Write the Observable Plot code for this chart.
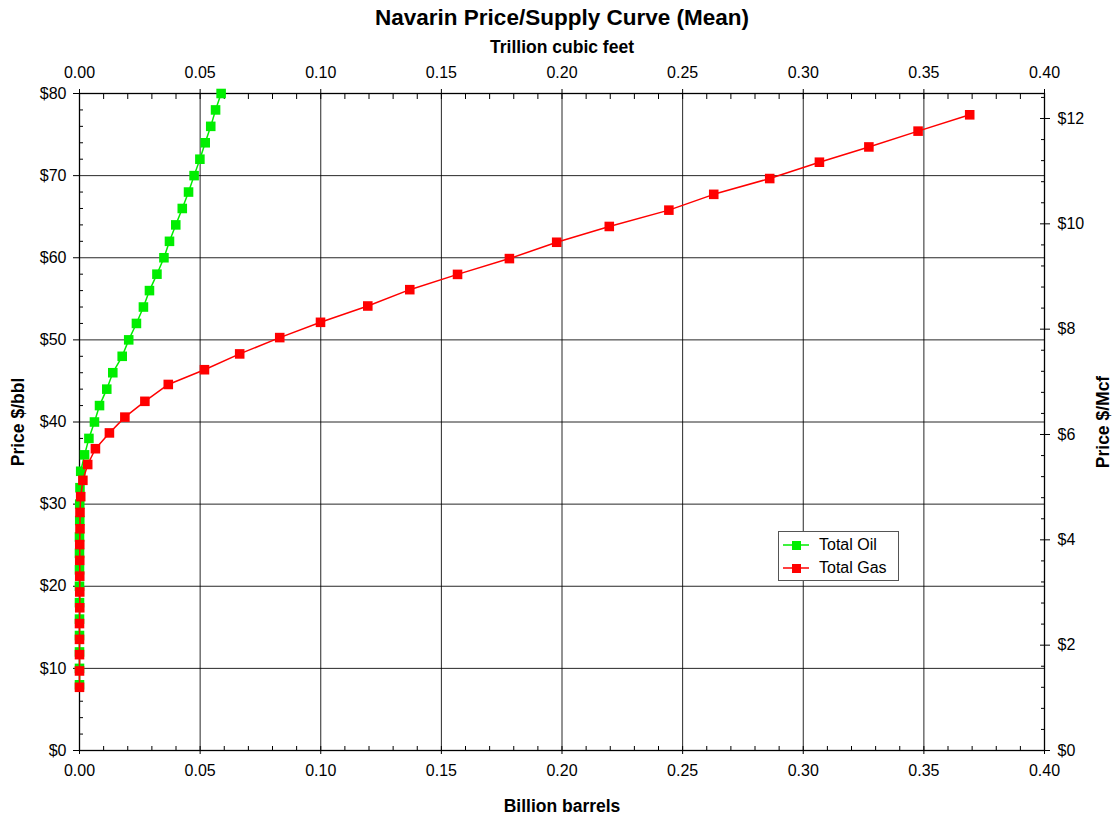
<!DOCTYPE html>
<html>
<head>
<meta charset="utf-8">
<script src="https://cdn.jsdelivr.net/npm/d3@7"></script>
<script src="https://cdn.jsdelivr.net/npm/@observablehq/plot@0.6"></script>
<style>
  body { margin: 0; background: #fff; }
  #wrap { position: relative; width: 1114px; height: 818px; font-family: "Liberation Sans", Arial, sans-serif; }
  #legend { position: absolute; left: 778px; top: 531px; width: 119px; height: 48px; border: 1px solid #555; background: #fff; font-size: 16px; }
  #legend .row { position: absolute; left: 4px; height: 20px; display: flex; align-items: center; }
  #legend svg { margin-right: 10px; }
</style>
</head>
<body>
<div id="wrap"></div>
<script>
// ---- data ----
const oilPrice = [8,10,12,14,16,18,20,22,24,26,28,30,32,34,36,38,40,42,44,46,48,50,52,54,56,58,60,62,64,66,68,70,72,74,76,78,80]; // $/bbl
const oilVolume = [0,0,0,0,0,0,0,0,0,0,0.0001,0.0001,0.0002,0.0005,0.0021,0.0039,0.0062,0.0083,0.0113,0.0138,0.0177,0.0204,0.0236,0.0265,0.0290,0.0321,0.0350,0.0373,0.0399,0.0426,0.0452,0.0475,0.0499,0.0521,0.0544,0.0564,0.0587]; // billion barrels
const gasPrice = [1.20,1.51,1.82,2.11,2.41,2.71,3.01,3.31,3.61,3.91,4.21,4.52,4.82,5.13,5.43,5.73,6.03,6.33,6.63,6.95,7.23,7.53,7.84,8.13,8.44,8.75,9.04,9.34,9.65,9.95,10.26,10.56,10.86,11.17,11.46,11.76,12.07]; // $/Mcf
const gasVolume = [0,0,0,0,0,0.0001,0.0001,0.0001,0.0001,0.0001,0.0002,0.0002,0.0005,0.0014,0.0034,0.0066,0.0124,0.0188,0.0271,0.0368,0.0518,0.0664,0.0830,0.0999,0.1195,0.1369,0.1567,0.1782,0.1978,0.2196,0.2443,0.2629,0.2861,0.3067,0.3272,0.3476,0.3690]; // trillion cubic feet
const seriesNames = ["Total Oil", "Total Gas"];
const seriesColors = ["#00ee00", "#ff0000"];
const xTicks = [0,0.05,0.10,0.15,0.20,0.25,0.30,0.35,0.40];
const xMinorTicks = [0.01,0.02,0.03,0.04,0.06,0.07,0.08,0.09,0.11,0.12,0.13,0.14,0.16,0.17,0.18,0.19,0.21,0.22,0.23,0.24,0.26,0.27,0.28,0.29,0.31,0.32,0.33,0.34,0.36,0.37,0.38,0.39];
const yTicks = [0,10,20,30,40,50,60,70,80]; // $/bbl
const yMinorTicks = [2,4,6,8,12,14,16,18,22,24,26,28,32,34,36,38,42,44,46,48,52,54,56,58,62,64,66,68,72,74,76,78];
const mcfTicks = [0,2,4,6,8,10,12]; // $/Mcf
const mcfMinorTicks = [0.4,0.8,1.2,1.6,2.4,2.8,3.2,3.6,4.4,4.8,5.2,5.6,6.4,6.8,7.2,7.6,8.4,8.8,9.2,9.6,10.4,10.8,11.2,11.6,12.4];
const bblPerMcf = 6.413; // right axis conversion ($/bbl per $/Mcf)

// ---- tables ----
const oil = oilPrice.map((p, i) => ({x: oilVolume[i], y: p}));
const gas = gasPrice.map((p, i) => ({x: gasVolume[i], y: p * bblPerMcf}));
const toBbl = arr => arr.map(d => d * bblPerMcf);
const blank = () => "";

const chart = Plot.plot({
  width: 1114,
  height: 818,
  marginTop: 93, marginBottom: 68, marginLeft: 79, marginRight: 70,
  style: {fontFamily: "'Liberation Sans', Arial, sans-serif", fontSize: "16px", background: "#fff", color: "#000"},
  x: {domain: [0, 0.4]},
  y: {domain: [0, 80]},
  marks: [
    Plot.gridX(xTicks.slice(1, -1), {stroke: "#000", strokeOpacity: 0.85, strokeWidth: 1}),
    Plot.gridY(yTicks.slice(1, -1), {stroke: "#000", strokeOpacity: 0.85, strokeWidth: 1}),
    Plot.frame({stroke: "#000", strokeWidth: 1.3}),
    // bottom axis
    Plot.axisX(xTicks, {anchor: "bottom", tickSize: 4, tickPadding: 10, tickFormat: d3.format(".2f"), label: null, fontSize: 16}),
    Plot.axisX(xTicks, {anchor: "bottom", tickSize: -4, tickFormat: blank, label: null}),
    Plot.axisX(xMinorTicks, {anchor: "bottom", tickSize: -4, tickFormat: blank, label: null}),
    // top axis
    Plot.axisX(xTicks, {anchor: "top", tickSize: 5, tickPadding: 11, tickFormat: d3.format(".2f"), label: null, fontSize: 16}),
    Plot.axisX(xTicks, {anchor: "top", tickSize: -5, tickFormat: blank, label: null}),
    Plot.axisX(xMinorTicks, {anchor: "top", tickSize: -5, tickFormat: blank, label: null}),
    // left axis
    Plot.axisY(yTicks, {anchor: "left", tickSize: 6, tickPadding: 7, tickFormat: d => "$" + d, label: null, fontSize: 16}),
    Plot.axisY(yMinorTicks, {anchor: "left", tickSize: -4, tickFormat: blank, label: null}),
    // right axis ($/Mcf)
    Plot.axisY(toBbl(mcfTicks), {anchor: "right", tickSize: 5, tickPadding: 8, tickFormat: d => "$" + Math.round(d / bblPerMcf), label: null, fontSize: 16}),
    Plot.axisY(toBbl(mcfTicks), {anchor: "right", tickSize: -5, tickFormat: blank, label: null}),
    Plot.axisY(toBbl(mcfMinorTicks), {anchor: "right", tickSize: -4, tickFormat: blank, label: null}),
    // series
    Plot.line(oil, {x: "x", y: "y", stroke: seriesColors[0], strokeWidth: 1.5}),
    Plot.dot(oil, {x: "x", y: "y", symbol: "square", r: 5.4, fill: seriesColors[0], stroke: "none"}),
    Plot.line(gas, {x: "x", y: "y", stroke: seriesColors[1], strokeWidth: 1.5}),
    Plot.dot(gas, {x: "x", y: "y", symbol: "square", r: 5.4, fill: seriesColors[1], stroke: "none"}),
    // titles
    Plot.text(["Navarin Price/Supply Curve (Mean)"], {frameAnchor: "top", textAnchor: "middle", dy: -84, fontSize: 22.5, fontWeight: "bold"}),
    Plot.text(["Trillion cubic feet"], {frameAnchor: "top", textAnchor: "middle", dy: -53, fontSize: 17.5, fontWeight: "bold"}),
    Plot.text(["Billion barrels"], {frameAnchor: "bottom", textAnchor: "middle", dy: 61, fontSize: 17.5, fontWeight: "bold"}),
    Plot.text(["Price $/bbl"], {frameAnchor: "left", textAnchor: "middle", dx: -61, rotate: -90, fontSize: 17.5, fontWeight: "bold"}),
    Plot.text(["Price $/Mcf"], {frameAnchor: "right", textAnchor: "middle", dx: 59, rotate: -90, fontSize: 17.5, fontWeight: "bold"})
  ]
});

const wrap = document.getElementById("wrap");
wrap.appendChild(chart);

// legend
const legend = document.createElement("div");
legend.id = "legend";
seriesNames.forEach((name, i) => {
  const row = document.createElement("div");
  row.className = "row";
  row.style.top = (3 + i * 23) + "px";
  row.innerHTML = `<svg width="26" height="12"><line x1="0" y1="6" x2="26" y2="6" stroke="${seriesColors[i]}" stroke-width="1.5"/><rect x="9" y="2" width="9" height="9" fill="${seriesColors[i]}"/></svg><span>${name}</span>`;
  legend.appendChild(row);
});
wrap.appendChild(legend);
</script>
</body>
</html>
